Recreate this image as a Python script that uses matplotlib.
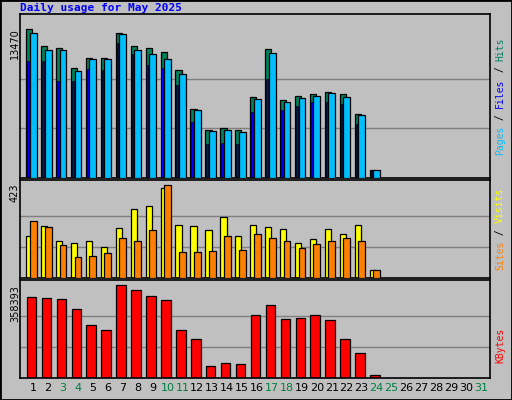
import matplotlib
matplotlib.use("Agg")
import matplotlib.pyplot as plt
import numpy as np

days = list(range(1, 32))
weekend = [3, 4, 10, 11, 17, 18, 24, 25, 31]
hits = [13470, 11900, 11750, 9970, 10800, 10800, 13100, 11900, 11750, 11370, 9780, 6270, 4300, 4490, 4300, 7290, 11650, 7010, 7390, 7570, 7760, 7570, 5800, 750]
files = [13100, 11560, 11560, 9700, 10700, 10700, 13000, 11560, 11180, 10700, 9400, 6170, 4200, 4300, 4110, 7100, 11280, 6830, 7200, 7390, 7670, 7290, 5700, 750]
pages = [10570, 10570, 8790, 8790, 9820, 9720, 12150, 11180, 10240, 9970, 8390, 5050, 3080, 3180, 3080, 5990, 8970, 6170, 6500, 6900, 6900, 6700, 4900, 650]
visits = [189, 235, 170, 161, 170, 143, 225, 313, 327, 409, 239, 235, 216, 276, 189, 239, 230, 221, 161, 175, 221, 202, 239, 37]
sites = [258, 230, 152, 97, 101, 115, 184, 170, 216, 423, 120, 120, 124, 189, 129, 202, 184, 170, 138, 156, 166, 184, 170, 37]
kbytes = [311000, 307000, 303000, 264000, 205000, 185000, 358393, 339000, 315000, 299000, 185000, 150000, 47000, 59000, 55000, 244000, 280000, 228000, 232000, 244000, 224000, 150000, 98000, 12000]

gray = "#C0C0C0"
fig = plt.figure(figsize=(5.12, 4.0), dpi=100, facecolor=gray)
W, H = 512, 400

def ax_at(x0, y0, x1, y1):
    a = fig.add_axes([x0 / W, 1 - y1 / H, (x1 - x0) / W, (y1 - y0) / H])
    a.set_facecolor(gray)
    a.set_xlim(0.13, 31.6)
    a.set_xticks([]); a.set_yticks([])
    for s in a.spines.values():
        s.set_color("black"); s.set_linewidth(1.2)
    return a

n = len(hits)
x = np.arange(1, n + 1)
ec = dict(edgecolor="black", linewidth=0.9)

def ylab(y_top, s):
    fig.text(15 / W, 1 - y_top / H, s, rotation=90, ha="center", va="top", fontsize=7)

a1 = ax_at(20, 14, 490, 178)
mx = max(hits)
a1.set_ylim(0, mx / 0.91)
for f in (1/3, 2/3):
    a1.axhline(mx * f, color="#808080", lw=1, zorder=0)
a1.bar(x - 0.46, hits, width=0.42, align="edge", color="#00805C", **ec, zorder=2)
a1.bar(x - 0.22, files, width=0.46, align="edge", color="#00BFFF", **ec, zorder=3)
a1.bar(x - 0.40, pages, width=0.12, align="edge", color="#0000FF", edgecolor="black", linewidth=0.5, zorder=2.5)
ylab(28, f"{mx}")

a2 = ax_at(20, 180, 490, 278)
m2 = max(max(visits), max(sites))
a2.set_ylim(0, m2 / 0.95)
for f in (1/3, 2/3):
    a2.axhline(m2 * f, color="#808080", lw=1, zorder=0)
a2.bar(x - 0.46, visits, width=0.42, align="edge", color="#FFFF00", **ec, zorder=2)
a2.bar(x - 0.22, sites, width=0.46, align="edge", color="#FF8000", **ec, zorder=3)
ylab(183, str(m2))

a3 = ax_at(20, 280, 490, 378)
m3 = max(kbytes)
a3.set_ylim(0, m3 / 0.95)
for f in (1/3, 2/3):
    a3.axhline(m3 * f, color="#808080", lw=1, zorder=0)
a3.bar(x - 0.42, kbytes, width=0.64, align="edge", color="#FF0000", **ec, zorder=2)
ylab(285, f"{m3}")

for d in days:
    px = (d - 0.13) / (31.6 - 0.13) * 470 + 20
    fig.text(px / W, 1 - 388 / H, str(d), ha="center", va="center", fontsize=8,
             color="#008040" if d in weekend else "black")

fig.text(20 / W, 1 - 8 / H, "Daily usage for May 2025", color="#0000FF", fontweight="bold",
         family="DejaVu Sans Mono", fontsize=8, va="center", ha="left")

CH = 5.9
def rlabel(y_center, parts):
    total = sum(len(t) for t, _ in parts) * CH
    y = y_center + total / 2
    for t, c in parts:
        fig.text(500 / W, 1 - y / H, t, rotation=90, color=c, family="DejaVu Sans Mono",
                 fontsize=7, ha="center", va="bottom")
        y -= len(t) * CH

rlabel(96, [("Pages", "#00BFFF"), (" / ", "black"), ("Files", "#0000FF"), (" / ", "black"), ("Hits", "#00805C")])
rlabel(229, [("Sites", "#FF8000"), (" / ", "black"), ("Visits", "#FFFF00")])
rlabel(345, [("KBytes", "#FF0000")])

fig.patches.append(plt.Rectangle((0, 0), 1, 1, transform=fig.transFigure, fill=False, edgecolor="black", lw=2))
fig.savefig("out.png", dpi=100, facecolor=gray)
